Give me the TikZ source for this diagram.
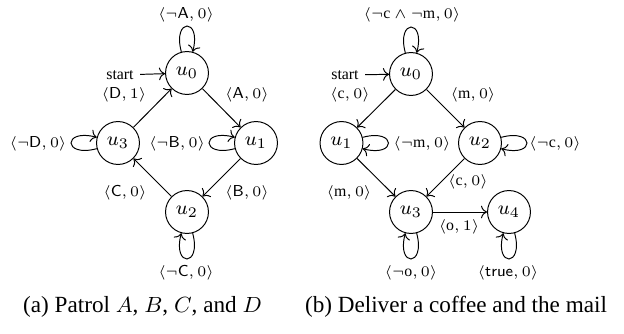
\documentclass[tikz,border=0pt]{standalone}
\usepackage{fontspec}
\setmainfont{Liberation Serif}
\usetikzlibrary{arrows.meta}
\begin{document}
\begin{tikzpicture}[x=0.41pt,y=-0.41pt,
  state/.style={draw,circle,minimum size=17.6pt,inner sep=0pt,line width=0.4pt,font=\fontsize{8}{9.6}\selectfont},
  lbl/.style={inner sep=0pt,font=\fontsize{6.5}{7.8}\selectfont},
  captxt/.style={inner sep=0pt,font=\fontsize{9.5}{11.4}\selectfont},
  conn/.style={->,line width=0.4pt},
  startarr/.style={conn,shorten <=2.5pt},
  every loop/.style={min distance=4.4mm,looseness=8}]
\useasboundingbox (0,0) rectangle (624,334);
% ---------- (a)
\node[state] (a0) at (187,73) {$u_0$};
\node[state] (a1) at (256,143) {$u_1$};
\node[state] (a2) at (187,212) {$u_2$};
\node[state] (a3) at (118,143) {$u_3$};
\node[lbl] (astart) at (120,75) {start};
\draw[startarr] (astart) -- (a0);
\draw[conn] (a0) -- (a1);
\draw[conn] (a1) -- (a2);
\draw[conn] (a2) -- (a3);
\draw[conn] (a3) -- (a0);
\draw[conn] (a0) to[loop above] (a0);
\draw[conn] (a3) to[loop left] (a3);
\draw[conn] (a1) to[loop left] (a1);
\draw[conn] (a2) to[loop below] (a2);
\node[lbl] (la0) at (186,15) {$\langle\neg\mathsf{A},0\rangle$};
\node[lbl] (la30) at (124,95) {$\langle\mathsf{D},1\rangle$};
\node[lbl] (la01) at (247,95) {$\langle\mathsf{A},0\rangle$};
\node[lbl] (la3) at (38,144) {$\langle\neg\mathsf{D},0\rangle$};
\node[lbl] (la1) at (177,144) {$\langle\neg\mathsf{B},0\rangle$};
\node[lbl] (la23) at (125,193) {$\langle\mathsf{C},0\rangle$};
\node[lbl] (la12) at (247,193) {$\langle\mathsf{B},0\rangle$};
\node[lbl] (la2) at (186,273) {$\langle\neg\mathsf{C},0\rangle$};
\node[captxt] (capa) at (142.5,307) {(a) Patrol $A$, $B$, $C$, and $D$};
% ---------- (b)
\node[state] (b0) at (411,74) {$u_0$};
\node[state] (b1) at (341.5,143) {$u_1$};
\node[state] (b2) at (480,143) {$u_2$};
\node[state] (b3) at (411,212) {$u_3$};
\node[state] (b4) at (509,212) {$u_4$};
\node[lbl] (bstart) at (345,75) {start};
\draw[startarr] (bstart) -- (b0);
\draw[conn] (b0) -- (b1);
\draw[conn] (b0) -- (b2);
\draw[conn] (b1) -- (b3);
\draw[conn] (b2) -- (b3);
\draw[conn] (b3) -- (b4);
\draw[conn] (b0) to[loop above] (b0);
\draw[conn] (b1) to[loop right] (b1);
\draw[conn] (b2) to[loop right] (b2);
\draw[conn] (b3) to[loop below] (b3);
\draw[conn] (b4) to[loop below] (b4);
\node[lbl] (lb0) at (412,15) {$\langle\neg\mathrm{c}\wedge\neg\mathrm{m},0\rangle$};
\node[lbl] (lb01) at (350,95) {$\langle\mathrm{c},0\rangle$};
\node[lbl] (lb02) at (473,95) {$\langle\mathrm{m},0\rangle$};
\node[lbl] (lb1) at (422,144) {$\langle\neg\mathrm{m},0\rangle$};
\node[lbl] (lb2) at (555,144) {$\langle\neg\mathrm{c},0\rangle$};
\node[lbl] (lb13) at (349,193) {$\langle\mathrm{m},0\rangle$};
\node[lbl] (lb23) at (468,182) {$\langle\mathrm{c},0\rangle$};
\node[lbl] (lb34) at (459,227) {$\langle\mathrm{o},1\rangle$};
\node[lbl] (lb3) at (411,273) {$\langle\neg\mathrm{o},0\rangle$};
\node[lbl] (lb4) at (508,273) {$\langle\mathsf{true},0\rangle$};
\node[captxt] (capb) at (456,307) {(b) Deliver a coffee and the mail};
\end{tikzpicture}
\end{document}
